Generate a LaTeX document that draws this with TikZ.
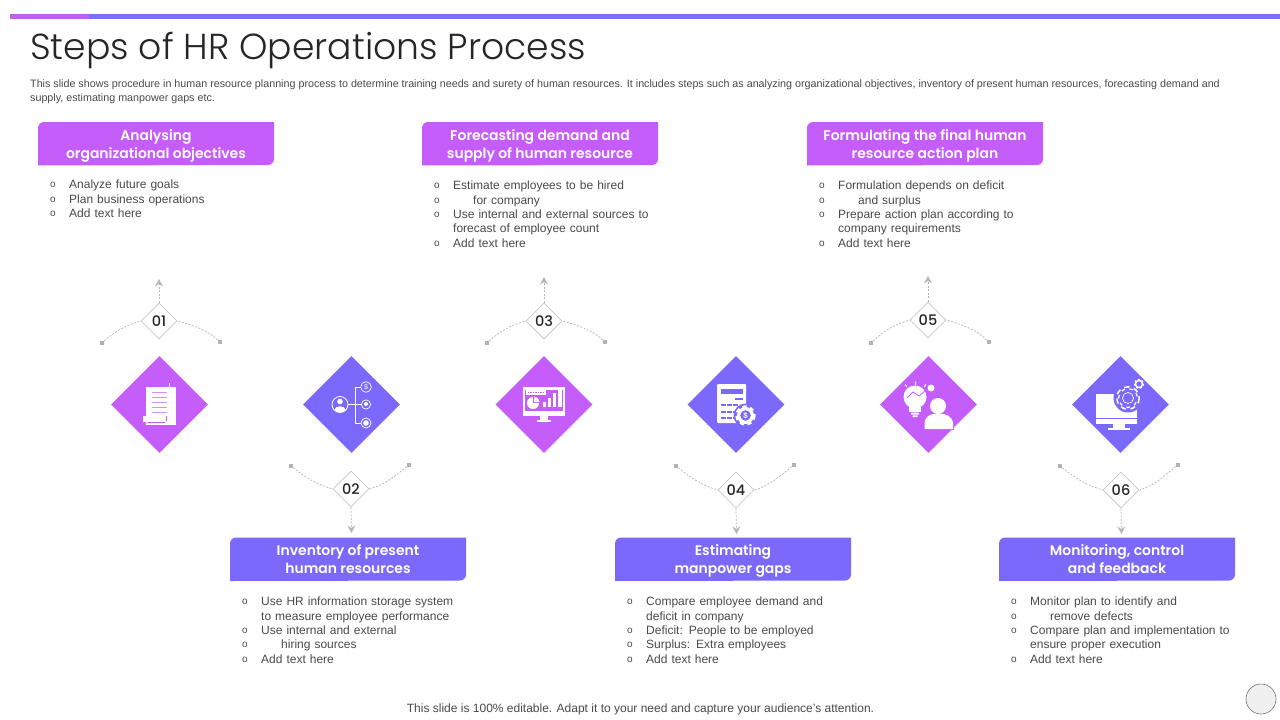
\documentclass[tikz,border=0pt]{standalone}
\usepackage{fontspec}
\setmainfont{Liberation Sans}
\newfontfamily\poplight{Poppins Light}
\newfontfamily\popmed{Poppins Medium}
\newfontfamily\popsemi{Poppins SemiBold}
\usetikzlibrary{shapes.geometric,arrows.meta}
\definecolor{pur}{HTML}{C55DFA}
\definecolor{blu}{HTML}{7A69FB}
\definecolor{barpur}{HTML}{C062E8}
\definecolor{barblu}{HTML}{7B70EE}
\definecolor{bodyc}{HTML}{4A4A4A}
\definecolor{dashc}{HTML}{B6B6B6}
\tikzset{
  x=1pt,y=-1pt,
  hdrtext/.style={text=white,align=center,font=\fontsize{13.95}{18}\selectfont\popsemi,inner sep=0},
  listtext/.style={anchor=north west,inner sep=0,align=left,text=bodyc,text width=240pt,font=\fontsize{12}{14.3}\selectfont},
  bigdia/.style={diamond,aspect=1,minimum width=97pt,minimum height=97pt,inner sep=0},
  numdia/.style={diamond,aspect=1,minimum width=36pt,minimum height=36pt,inner sep=0,draw=black!22,fill=white,line width=.7pt,font=\fontsize{14.5}{15}\selectfont\popmed,text=black!85},
  endsq/.style={rectangle,minimum size=4pt,inner sep=0,fill=black!30},
  dashln/.style={draw=dashc,line width=.7pt,dash pattern=on 2pt off 1.5pt},
  arrowln/.style={dashln,-{Stealth[width=8pt,length=7.5pt,fill=dashc,line width=0pt]}},
}
\newcommand{\hdrbox}[5]{% name,x,y,color,text
  \fill[#4] (#2+6,#3) -- (#2+236,#3) -- (#2+236,#3+37) arc[start angle=0,end angle=90,radius=6] -- (#2,#3+43.5) -- (#2,#3+6) arc[start angle=180,end angle=270,radius=6] -- cycle;
  \node[hdrtext] (#1) at (#2+118,#3+23.7) {#5};
}
\newcommand{\itm}[1]{\makebox[19pt][l]{\raisebox{1pt}{\fontsize{10}{10}\selectfont o}}#1\par}
\newcommand{\itmb}[1]{\makebox[19pt][l]{\raisebox{1pt}{\fontsize{10}{10}\selectfont o}}\hspace*{20pt}#1\par}
\newcommand{\itmc}[1]{\makebox[19pt][l]{}#1\par}
\newcommand{\gearicon}[5]{% cx,cy,R,fill color,hole color
  \fill[#4] (#1,#2) circle[radius=#3];
  \draw[#4,line width=#3*0.28pt,dash pattern=on #3*0.5pt off #3*0.42pt] (#1,#2) circle[radius=#3*1.06];
  \fill[#5] (#1,#2) circle[radius=#3*0.62];
}
\begin{document}
\begin{tikzpicture}
\useasboundingbox (0,0) rectangle (1280,720);
\fill[white] (0,0) rectangle (1280,720);
\fill[barblu] (89,14) rectangle (1280,19);
\fill[barpur] (10,14) rectangle (89,19);
\node[anchor=base west,inner sep=0,text=black!85,font=\fontsize{36.15}{40}\selectfont\poplight] (title) at (30,59.5) {Steps of HR Operations Process};
\node[anchor=north west,inner sep=0,align=left,text=bodyc,font=\fontsize{10.73}{13.3}\selectfont] (sub) at (30,79.8) {This slide shows procedure in human resource planning process to determine training needs and surety of human resources. It includes steps such as analyzing organizational objectives, inventory of present human resources, forecasting demand and\\supply, estimating manpower gaps etc.};

\hdrbox{h1}{38}{122}{pur}{\strut Analysing\\\strut organizational objectives}
\hdrbox{h3}{422}{122}{pur}{\strut Forecasting demand and\\\strut supply of human resource}
\hdrbox{h5}{807}{122}{pur}{\strut Formulating the final human\\\strut resource action plan}
\hdrbox{h2}{230}{537.5}{blu}{\strut Inventory of present\\\strut human resources}
\hdrbox{h4}{615}{537.5}{blu}{\strut Estimating\\\strut manpower gaps}
\hdrbox{h6}{999}{537.5}{blu}{\strut Monitoring, control\\\strut and feedback}

\node[listtext] (l1) at (50,180) {\itm{Analyze future goals}\itm{Plan business operations}\itm{Add text here}};
\node[listtext] (l3) at (434,181) {\itm{Estimate employees to be hired}\itmb{for company}\itm{Use internal and external sources to}\itmc{forecast of employee count}\itm{Add text here}};
\node[listtext] (l5) at (819,181) {\itm{Formulation depends on deficit}\itmb{and surplus}\itm{Prepare action plan according to}\itmc{company requirements}\itm{Add text here}};
\node[listtext] (l2) at (242,597) {\itm{Use HR information storage system}\itmc{to measure employee performance}\itm{Use internal and external}\itmb{hiring sources}\itm{Add text here}};
\node[listtext] (l4) at (627,597) {\itm{Compare employee demand and}\itmc{deficit in company}\itm{Deficit: People to be employed}\itm{Surplus: Extra employees}\itm{Add text here}};
\node[listtext] (l6) at (1011,597) {\itm{Monitor plan to identify and}\itmb{remove defects}\itm{Compare plan and implementation to}\itmc{ensure proper execution}\itm{Add text here}};

% number diamonds and connectors
\foreach \i/\cx/\cy/\xl/\yl/\xr/\yr/\ya in {1/159/321/102/343/220/342/279,3/544/321/487/343/605/342/277,5/928/320/871/343/989/342/276}{
  \node[numdia] (n\i) at (\cx,\cy) {0\i};
  \node[endsq] (ea\i) at (\xl,\yl) {};
  \node[endsq] (eb\i) at (\xr,\yr) {};
  \coordinate (t\i) at (\cx,\ya);
  \draw[dashln] (ea\i) to[out=42,in=197] (n\i.west);
  \draw[dashln] (eb\i) to[out=138,in=-17] (n\i.east);
  \draw[arrowln] (n\i.north) -- (t\i);
}
\foreach \i/\cx/\cy/\xl/\yl/\xr/\yr/\ya in {2/351/489/291/466/409/465/533,4/736/490/676/466/794/465/534,6/1121/490/1060/466/1178/465/534}{
  \node[numdia] (n\i) at (\cx,\cy) {0\i};
  \node[endsq] (ea\i) at (\xl,\yl) {};
  \node[endsq] (eb\i) at (\xr,\yr) {};
  \coordinate (t\i) at (\cx+.5,\ya);
  \draw[dashln] (ea\i) to[out=-38,in=163] (n\i.west);
  \draw[dashln] (eb\i) to[out=-142,in=17] (n\i.east);
  \draw[arrowln] (n\i.south) -- (t\i);
}

% big diamonds
\node[bigdia,fill=pur] (d1) at (159.5,404.5) {};
\node[bigdia,fill=blu] (d2) at (351.5,404.5) {};
\node[bigdia,fill=pur] (d3) at (544,404.5) {};
\node[bigdia,fill=blu] (d4) at (736,404.5) {};
\node[bigdia,fill=pur] (d5) at (928.5,404.5) {};
\node[bigdia,fill=blu] (d6) at (1120.5,404.5) {};

% icon 1: document
\fill[white] (146,386) rectangle (176,425);
\draw[pur,line width=.6pt] (146,386) -- (176,386);
\fill[white] (143,416) rectangle (166,422) (148,422) rectangle (166,424.5);
\draw[pur,line width=.6pt] (148,422) -- (165,422) (166,416) -- (166,421);
\foreach \yy in {392,397,402,407,412} \draw[pur!70,line width=.7pt] (152,\yy) -- (167,\yy);
\draw[white,line width=.8pt] (169,387) -- (169,383);

% icon 2: person and branches
\draw[white,line width=.8pt] (340,404.5) circle[radius=8];
\fill[white] (340,401.5) circle[radius=2.8];
\fill[white] (334.5,410) .. controls (335,405) and (345,405) .. (345.5,410) .. controls (342,413) and (338,413) .. (334.5,410) -- cycle;
\draw[white,line width=.7pt] (348,404.5) -- (355,404.5) (360.5,387) -- (355,387) -- (355,423) -- (360.5,423) (355,404.5) -- (361,404.5);
\draw[white,line width=.7pt] (366,387) circle[radius=5.3];
\draw[white,line width=.7pt] (366,404.5) circle[radius=4.6];
\fill[white] (366,404) circle[radius=2];
\draw[white,line width=.7pt] (366,423) circle[radius=5];
\fill[white] (366,423) circle[radius=2.8];
\node[inner sep=0,text=white,font=\fontsize{7}{7}\selectfont] (dollar2) at (366,387) {\$};

% icon 3: monitor with charts
\fill[white] (523,387) rectangle (565,416);
\fill[pur] (525,389.5) rectangle (563,411);
\fill[white] (540,416) rectangle (548,420);
\fill[white] (537,420) rectangle (551,422);
\fill[white] (526,390) rectangle (546,394.5);
\draw[pur,line width=.6pt,dash pattern=on 1.5pt off 1pt] (527.5,392.2) -- (544.5,392.2);
\fill[white] (533,403) circle[radius=6];
\fill[pur] (533,403) -- (539.5,403) -- (539.5,396.5) -- (533,396.5) -- cycle;
\fill[white] (534,402) -- (539.5,402) arc[start angle=0,end angle=-85,radius=5.5] -- cycle;
\fill[white] (543,402) rectangle (546,407);
\fill[white] (548,397.5) rectangle (551,407);
\fill[white] (553,393) rectangle (556,407);
\fill[white] (558,388) rectangle (561.5,407);

% icon 4: calculator
\fill[white,rounded corners=1] (717,384) rectangle (746,423) ;
\fill[blu] (721,389) rectangle (743,394);
\fill[blu] (735,398) rectangle (743,399.5);
\foreach \yy in {405,412,418} \foreach \xx in {721,727,733} \fill[blu] (\xx,\yy-1.2) rectangle (\xx+5,\yy+1.2);
\fill[blu] (745.5,415.5) circle[radius=12];
\gearicon{745.5}{415.5}{8.5}{white}{blu}
\node[inner sep=0,text=white,font=\fontsize{8}{8}\selectfont\bfseries] (dollar4) at (745.5,415.5) {\$};

% icon 5: bulb and person
\fill[white] (915,397) circle[radius=11.5];
\fill[white] (909,404) rectangle (921,412);
\fill[white] (911,412.5) rectangle (919,414.5) (912.5,415.3) rectangle (917.5,417);
\draw[pur,line width=.8pt] (907,398) -- (913,392) -- (919,396) -- (927,389);
\fill[white] (931,388) circle[radius=3.5];
\draw[white,line width=1pt] (905,384.5) -- (907,387) (915.5,381.5) -- (915.5,385) (926,384.5) -- (924,387);
\fill[pur] (936,404) circle[radius=10.5];
\fill[pur] (922,412) rectangle (954,430);
\fill[white] (938,406) circle[radius=8];
\fill[white] (924.5,429) -- (924.5,423) .. controls (925,416) and (931,413.5) .. (938,413.5) .. controls (946,413.5) and (952,416) .. (953,423) -- (953,429) -- cycle;

% icon 6: monitor and gears
\fill[white] (1096,394) rectangle (1137,424);
\fill[blu] (1096,417.7) rectangle (1137,418.7);
\fill[white] (1113,424) rectangle (1125,428);
\fill[white] (1108,428) rectangle (1130,430);
\fill[blu] (1128,398) circle[radius=14.5];
\gearicon{1128}{398}{10}{white}{blu}
\gearicon{1128}{398}{8.6}{blu}{blu}
\draw[white,line width=.7pt] (1128,398) circle[radius=5.5];
\gearicon{1139}{384}{4.3}{white}{blu}

\node[anchor=center,inner sep=0,text=bodyc,font=\fontsize{12}{14}\selectfont] (foot) at (640.5,709) {This slide is 100\% editable. Adapt it to your need and capture your audience’s attention.};
\node[circle,minimum size=30pt,inner sep=0,draw=black!55,fill=black!6,line width=.6pt] (btn) at (1261,699) {};
\end{tikzpicture}
\end{document}
